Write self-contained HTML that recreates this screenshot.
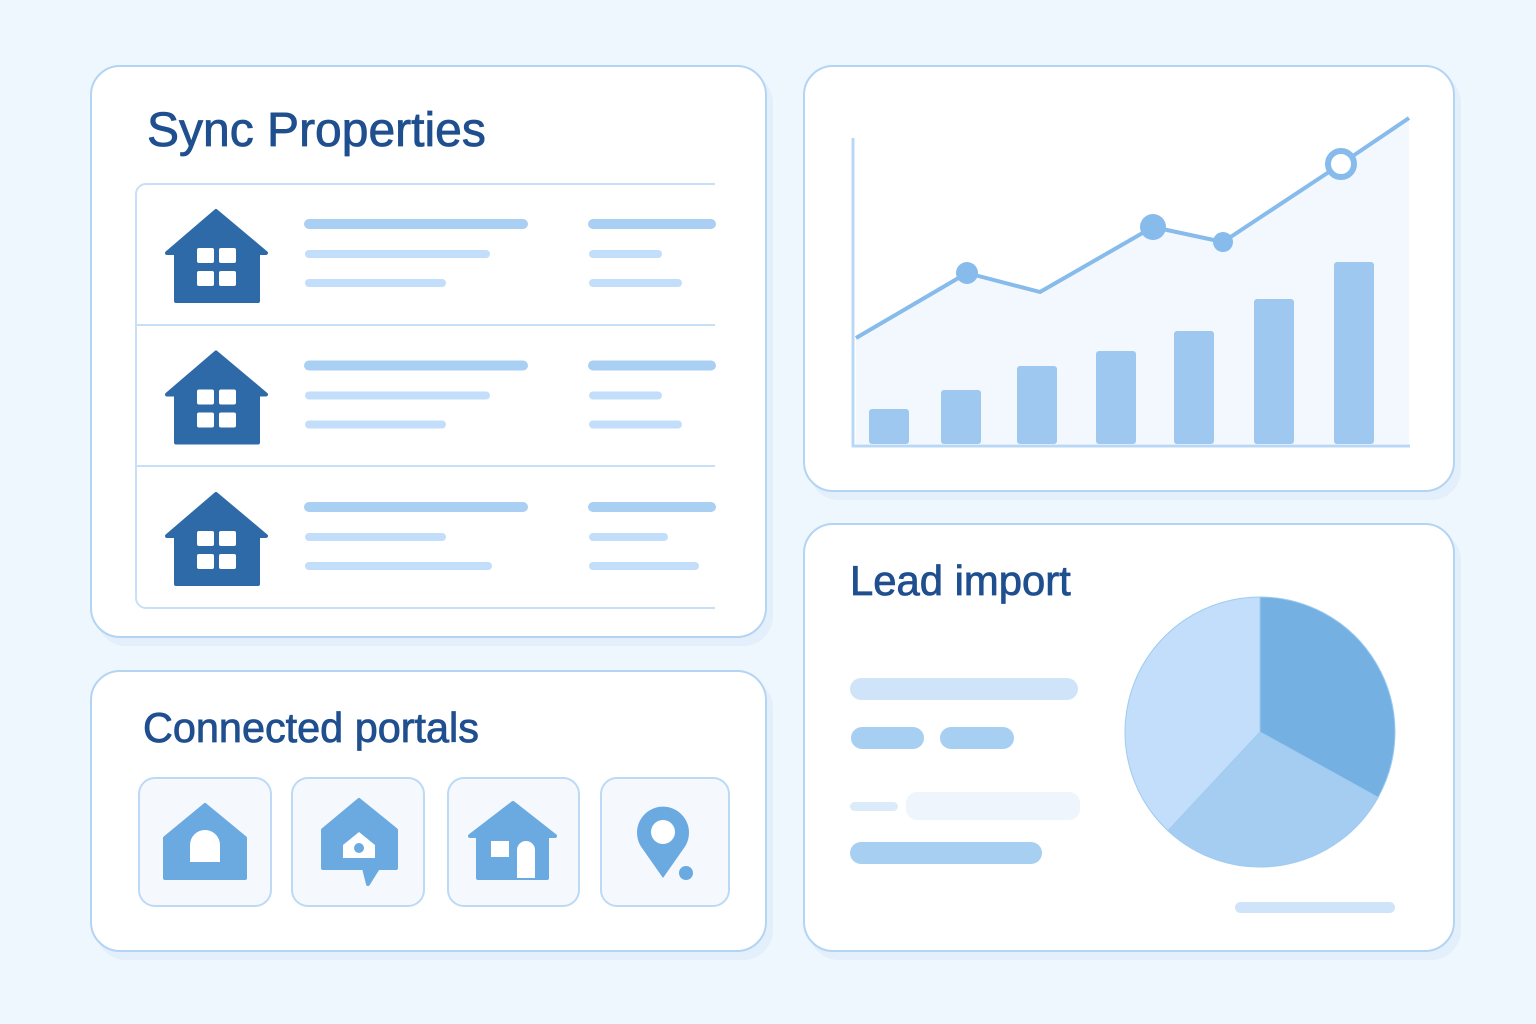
<!DOCTYPE html>
<html><head><meta charset="utf-8"><style>
body{margin:0;width:1536px;height:1024px;background:#eef6fe;font-family:"Liberation Sans",sans-serif;position:relative;overflow:hidden}
.card{position:absolute;background:#fff;border:2px solid #b3d4f3;border-radius:30px;box-shadow:6px 8px 0 #e3effb;box-sizing:border-box}
.title{position:absolute;color:#1f4f8f;font-weight:400;letter-spacing:0;-webkit-text-stroke:0.8px #1f4f8f}
svg{position:absolute;left:0;top:0}
</style></head><body>
<div class="card" style="left:90px;top:65px;width:677px;height:573px"></div>
<div class="title" style="left:147px;top:103px;font-size:48px">Sync Properties</div>
<div class="card" style="left:803px;top:65px;width:652px;height:427px"></div>
<div class="card" style="left:90px;top:670px;width:677px;height:282px"></div>
<div class="title" style="left:143px;top:705px;font-size:41.4px">Connected portals</div>
<div class="card" style="left:803px;top:523px;width:652px;height:429px"></div>
<div class="title" style="left:850px;top:557px;font-size:41.8px">Lead import</div>
<svg id="s" width="1536" height="1024"></svg>
<script>
const barValues=[35,54,78,93,113,145,182];
const lineValues=[106,171,152,217,202,280,326];
const pieValues=[119,104,137];
const pieColors=['#74b0e2','#a5cdf1','#c3defa'];
const s=document.getElementById('s');const NS='http://www.w3.org/2000/svg';
function el(t,a,name){const e=document.createElementNS(NS,t);for(const k in a)e.setAttribute(k,a[k]);


s.appendChild(e);return e;}
el('path',{d:'M715 184 H146 a10 10 0 0 0 -10 10 V598 a10 10 0 0 0 10 10 H715',fill:'none',stroke:'#c7e0f7','stroke-width':2},'list-box');
[325,466].forEach(y=>el('line',{x1:137,x2:715,y1:y,y2:y,stroke:'#c7e0f7','stroke-width':2},'row-divider'));
[0,1,2].forEach(i=>{const o=i*141.5;
el('path',{d:`M216 ${211+o} L266 ${253+o} L258 ${253+o} L258 ${301+o} L176 ${301+o} L176 ${253+o} L167 ${253+o} Z`,fill:'#2f6aa8','stroke-linejoin':'round',stroke:'#2f6aa8','stroke-width':4},'house-icon');
[[197,248],[219,248],[197,271],[219,271]].forEach(p=>el('rect',{x:p[0],y:p[1]+o,width:17,height:15,rx:2,fill:'#fff'},'house-window'));
const L=[[305,224,527,10,'#a9cff2'],[305,254,490,8,'#c3defa'],[305,283,446,8,'#c3defa'],[589,224,715,10,'#a9cff2'],[589,254,662,8,'#c3defa'],[589,283,682,8,'#c3defa']];
if(i==2){L[1][2]=446;L[2][2]=492;L[4][2]=668;L[5][2]=699;}
L.forEach(b=>el('line',{x1:b[0]+4,x2:b[2]-4,y1:b[1]+o,y2:b[1]+o,stroke:b[4],'stroke-width':b[3],'stroke-linecap':'round'},'placeholder-line'));
});
const x0=852,yb=444,ys=1,xs=[889,961,1037,1116,1194,1274,1354],lx=[856,967,1040,1153,1223,1341,1409];
const Y=v=>yb-v*ys;
let area='M'+lx[0]+' '+Y(lineValues[0]);lineValues.forEach((v,i)=>area+=' L'+lx[i]+' '+Y(v));area+=` L1409 ${yb} L856 ${yb} Z`;
el('path',{d:area,fill:'#f3f8fe'},'line-area');
barValues.forEach((v,i)=>el('rect',{x:xs[i]-20,y:Y(v),width:40,height:v,rx:3,fill:'#9fc8f0'},'bar-'+i));
el('line',{x1:853,x2:853,y1:138,y2:447,stroke:'#b9d8f5','stroke-width':3},'y-axis');
el('line',{x1:852,x2:1410,y1:446,y2:446,stroke:'#b9d8f5','stroke-width':3},'x-axis');
el('polyline',{points:lineValues.map((v,i)=>lx[i]+','+Y(v)).join(' '),fill:'none',stroke:'#86bbeb','stroke-width':4,'stroke-linejoin':'round'},'trend-line');
[[1,11],[3,13],[4,10]].forEach(p=>el('circle',{cx:lx[p[0]],cy:Y(lineValues[p[0]]),r:p[1],fill:'#86bbeb'},'line-marker'));
el('circle',{cx:lx[5],cy:Y(lineValues[5]),r:13,fill:'#fff',stroke:'#86bbeb','stroke-width':6},'highlight-marker');
[[139,271],[292,424],[448,579],[601,729]].forEach(t=>el('rect',{x:t[0],y:778,width:t[1]-t[0],height:128,rx:16,fill:'#f5f9fe',stroke:'#bcdaf5','stroke-width':2},'portal-tile'));
el('path',{d:'M205 805 L245 838 L245 878 L165 878 L165 838 Z',fill:'#6aaae0','stroke-linejoin':'round',stroke:'#6aaae0','stroke-width':4},'portal-icon-1');
el('path',{d:'M190 862 V845 a15 15 0 0 1 30 0 V862 Z',fill:'#fff'},'door');
el('path',{d:'M359 800 L396 830 L396 868 L378 868 L368 884 L364 868 L323 868 L323 830 Z',fill:'#6aaae0','stroke-linejoin':'round',stroke:'#6aaae0','stroke-width':4},'portal-icon-2');
el('path',{d:'M343 858 V845 L359 832 L375 845 V858 Z',fill:'#fff'},'inner-house');el('circle',{cx:359,cy:848,r:5,fill:'#6aaae0'},'dot');
el('path',{d:'M513 803 L555 836 L547 836 L547 878 L478 878 L478 836 L470 836 Z',fill:'#6aaae0','stroke-linejoin':'round',stroke:'#6aaae0','stroke-width':4},'portal-icon-3');
el('rect',{x:491,y:841,width:18,height:16,fill:'#fff'},'window');el('path',{d:'M517 878 V850 a9 9 0 0 1 18 0 V878Z',fill:'#fff'},'door');
el('path',{d:'M663 878 L642 848 A26 26 0 1 1 684 848 Z',fill:'#6aaae0'},'portal-icon-4');
el('circle',{cx:663,cy:832,r:12,fill:'#fff'},'pin-hole');el('circle',{cx:686,cy:873,r:7,fill:'#6aaae0'},'pin-dot');
[[850,678,228,22,'#cfe4f8'],[851,727,73,22,'#a7cff2'],[940,727,74,22,'#a7cff2'],[850,802,48,9,'#dcebfa'],[906,792,174,28,'#eef5fd'],[850,842,192,22,'#a7cff2'],[1235,902,160,11,'#cfe4f8']].forEach(b=>el('rect',{x:b[0],y:b[1],width:b[2],height:b[3],rx:b[3]/2>11?11:b[3]/2,fill:b[4]},'lead-placeholder'));
const cx=1260,cy=732,r=135;let a=-90;const tot=pieValues.reduce((p,c)=>p+c,0);
pieValues.forEach((v,i)=>{const a2=a+v/tot*360,r1=a*Math.PI/180,r2=a2*Math.PI/180;
el('path',{d:`M${cx} ${cy} L${cx+r*Math.cos(r1)} ${cy+r*Math.sin(r1)} A${r} ${r} 0 ${a2-a>180?1:0} 1 ${cx+r*Math.cos(r2)} ${cy+r*Math.sin(r2)} Z`,fill:pieColors[i],stroke:'#9ecbf0','stroke-width':1},'pie-slice-'+i);a=a2;});
</script>
</body></html>
